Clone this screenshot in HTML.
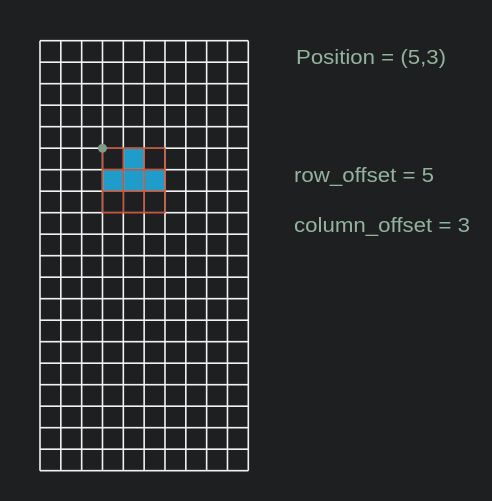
<!DOCTYPE html>
<html><head><meta charset="utf-8"><style>
html,body{margin:0;padding:0;background:#1e1f21;}
svg{display:block}
text{font-family:"Liberation Sans",sans-serif;fill:#93b39d;font-size:20px}
</style></head><body>
<svg width="492" height="501">
<rect width="492" height="501" fill="#1e1f21"/>
<g id="cells"></g>
<g id="grid"></g>
<g id="box"></g>
<circle id="dot" r="4.5" fill="#7d9c8a"/>
<text x="296" y="64" textLength="150" lengthAdjust="spacingAndGlyphs">Position = (5,3)</text>
<text x="294" y="182" textLength="140" lengthAdjust="spacingAndGlyphs">row_offset = 5</text>
<text x="294" y="232" textLength="176" lengthAdjust="spacingAndGlyphs">column_offset = 3</text>
</svg>
<script>
const nRows = 20, nCols = 10;
const position = [5, 3];
const pieceSize = 3;
const filledCells = [[0,1],[1,0],[1,1],[1,2]];
const x0 = 40, y0 = 40.7, cw = 20.83, ch = 21.5;
const NS = "http://www.w3.org/2000/svg";
const X = c => x0 + c * cw, Y = r => y0 + r * ch;
function mk(tag, attrs, parent){const e=document.createElementNS(NS,tag);for(const k in attrs)e.setAttribute(k,attrs[k]);parent.appendChild(e);return e;}
const cells = document.getElementById('cells');
filledCells.forEach(([r,c])=>{
  const e = mk('rect',{x:X(position[1]+c),y:Y(position[0]+r),width:cw,height:ch,fill:'#1f9cc9'},cells);
  
  
});
const grid = document.getElementById('grid');
for(let r=0;r<=nRows;r++){const l=mk('line',{x1:X(0),x2:X(nCols),y1:Y(r),y2:Y(r),stroke:'#f2f2f2','stroke-width':1.6},grid);
  
  }
for(let c=0;c<=nCols;c++){const l=mk('line',{x1:X(c),x2:X(c),y1:Y(0),y2:Y(nRows),stroke:'#f2f2f2','stroke-width':1.6},grid);
  
  }
const box = document.getElementById('box');
for(let i=0;i<=pieceSize;i++){
  const a=mk('line',{x1:X(position[1]),x2:X(position[1]+pieceSize),y1:Y(position[0]+i),y2:Y(position[0]+i),stroke:'#c8553a','stroke-width':1.6},box);
  
  
  const b=mk('line',{x1:X(position[1]+i),x2:X(position[1]+i),y1:Y(position[0]),y2:Y(position[0]+pieceSize),stroke:'#c8553a','stroke-width':1.6},box);
  
  
}
const dot=document.getElementById('dot');
dot.setAttribute('cx',X(position[1]));dot.setAttribute('cy',Y(position[0]));
</script>
</body></html>
